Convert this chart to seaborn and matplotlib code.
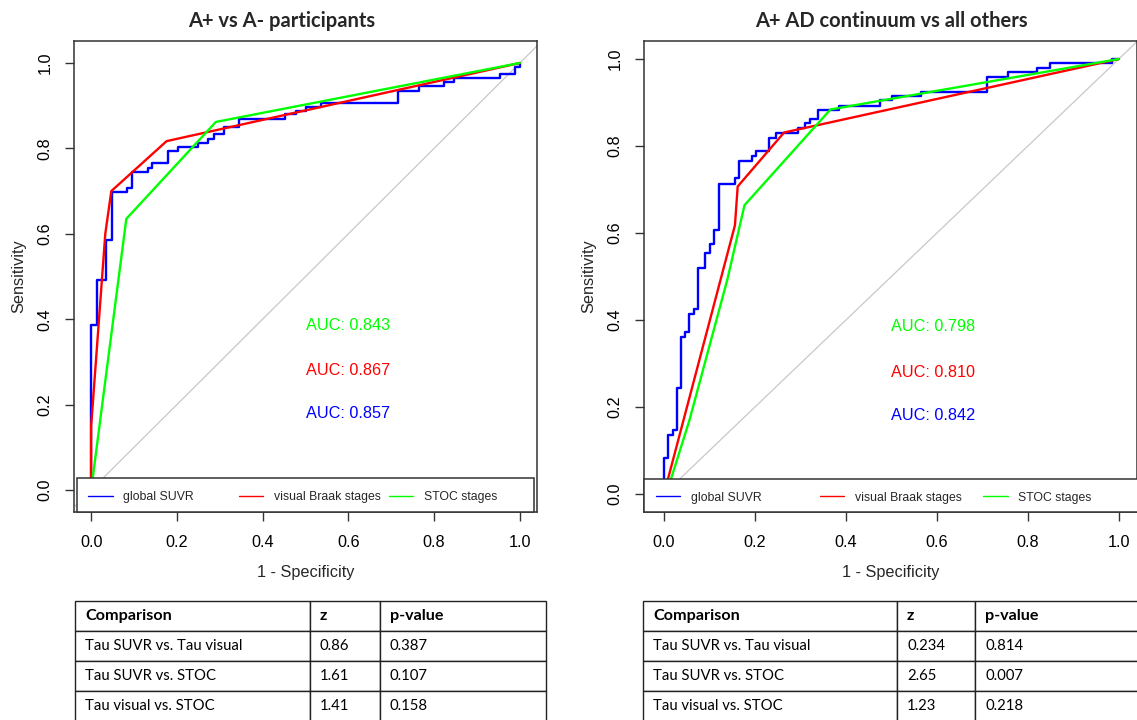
import matplotlib
matplotlib.use("Agg")
import matplotlib.pyplot as plt
from matplotlib.legend import Legend
from matplotlib.patches import Rectangle
import seaborn as sns

# ---- texts
titles = ["A+ vs A- participants", "A+ AD continuum vs all others"]
legend_labels = ["global SUVR", "visual Braak stages", "STOC stages"]
curve_colors = ["#0000FF", "#FF0000", "#00FF00"]
xlabel = "1 - Specificity"
ylabel = "Sensitivity"

# ---- left panel: ROC curves, x = 1 - specificity, y = sensitivity
# global SUVR is a step curve (end of each horizontal run, its level)
left_suvr_fpr = [0.0, 0.013, 0.035, 0.048, 0.083, 0.095, 0.132, 0.143, 0.180, 0.202,
                 0.250, 0.273, 0.287, 0.311, 0.346, 0.452, 0.478, 0.501, 0.536, 0.715,
                 0.765, 0.824, 0.846, 0.953, 0.988, 1.0, 1.0]
left_suvr_tpr = [0.0, 0.386, 0.492, 0.585, 0.699, 0.708, 0.745, 0.755, 0.765, 0.794,
                 0.803, 0.813, 0.822, 0.833, 0.849, 0.870, 0.881, 0.888, 0.896, 0.907,
                 0.935, 0.945, 0.955, 0.964, 0.974, 0.991, 1.0]
left_braak_fpr = [0.0, 0.0, 0.033, 0.047, 0.176, 1.0]
left_braak_tpr = [0.0, 0.15, 0.60, 0.70, 0.817, 1.0]
left_stoc_fpr = [0.0, 0.082, 0.291, 1.0]
left_stoc_tpr = [0.0, 0.635, 0.862, 1.0]
left_auc = [0.857, 0.867, 0.843]   # SUVR, Braak, STOC

# ---- right panel
right_suvr_fpr = [0.0, 0.0095, 0.019, 0.0286, 0.037, 0.046, 0.056, 0.065, 0.074, 0.091,
                  0.101, 0.111, 0.120, 0.155, 0.165, 0.193, 0.203, 0.230, 0.247, 0.294,
                  0.311, 0.322, 0.339, 0.385, 0.474, 0.501, 0.566, 0.711, 0.757, 0.821,
                  0.849, 0.985, 1.0, 1.0]
right_suvr_tpr = [0.0, 0.083, 0.136, 0.147, 0.243, 0.360, 0.372, 0.414, 0.425, 0.520,
                  0.553, 0.575, 0.607, 0.713, 0.726, 0.766, 0.776, 0.789, 0.819, 0.829,
                  0.842, 0.852, 0.862, 0.883, 0.893, 0.906, 0.916, 0.925, 0.959, 0.969,
                  0.980, 0.990, 0.999, 1.0]
right_braak_fpr = [0.0, 0.156, 0.162, 0.264, 1.0]
right_braak_tpr = [0.0, 0.618, 0.707, 0.831, 1.0]
right_stoc_fpr = [0.005, 0.056, 0.139, 0.177, 0.366, 1.0]
right_stoc_tpr = [0.0, 0.170, 0.492, 0.664, 0.884, 1.0]
right_auc = [0.842, 0.810, 0.798]

# ---- comparison tables
table_header = ["Comparison", "z", "p-value"]
comparisons = ["Tau SUVR vs. Tau visual", "Tau SUVR vs. STOC", "Tau visual vs. STOC"]
left_z = ["0.86", "1.61", "1.41"]
left_p = ["0.387", "0.107", "0.158"]
right_z = ["0.234", "2.65", "1.23"]
right_p = ["0.814", "0.007", "0.218"]

W, H = 1137, 720
AUC_Y = [0.18, 0.28, 0.385]   # SUVR, Braak, STOC label heights


def box(l, t, r, b):
    return [l / W, 1 - b / H, (r - l) / W, (b - t) / H]


sns.set_theme(style="ticks")
plt.rcParams["font.family"] = ["Liberation Sans", "DejaVu Sans"]

fig = plt.figure(figsize=(W / 100, H / 100), dpi=100)


def roc_panel(rect, xlim, ylim, curves, aucs, legend_x, legend_box):
    ax = fig.add_axes(rect)
    ax.axline((0, 0), (1, 1), color="#c8c8c8", lw=0.9, zorder=1)
    styles = ["steps-pre", "default", "default"]
    for (fpr, tpr), col, lab, ds in zip(curves, curve_colors, legend_labels, styles):
        sns.lineplot(x=fpr, y=tpr, ax=ax, color=col, lw=1.7, label=lab,
                     estimator=None, sort=False, drawstyle=ds, zorder=2)
    for val, col, yy in zip(aucs, curve_colors, AUC_Y):
        ax.text(0.5, yy, f"AUC: {val:.3f}", color=col, fontsize=11.7,
                ha="left", va="center")
    ax.set_xlim(*xlim)
    ax.set_ylim(*ylim)
    ticks = [0.0, 0.2, 0.4, 0.6, 0.8, 1.0]
    ax.set_xticks(ticks)
    ax.set_yticks(ticks)
    ax.set_xticklabels([f"{t:.1f}" for t in ticks])
    ax.set_yticklabels([f"{t:.1f}" for t in ticks])
    ax.tick_params(length=6.5, width=1.0, color="#333333", labelsize=11.7,
                   labelcolor="black")
    ax.tick_params(axis="x", pad=10)
    ax.tick_params(axis="y", pad=9, labelrotation=90)
    for lab in ax.get_yticklabels():
        lab.set_va("center")
    for sp in ax.spines.values():
        sp.set_visible(True)
        sp.set_color("#333333")
        sp.set_linewidth(1.1)
    ax.set_xlabel(xlabel, fontsize=11.7, labelpad=11)
    ax.set_ylabel(ylabel, fontsize=11.7, labelpad=8)

    # R-style horizontal legend: equal-width columns inside one box
    handles, labels = ax.get_legend_handles_labels()
    if ax.get_legend():
        ax.get_legend().remove()
    bx, bw, bh = legend_box
    ax.add_patch(Rectangle((bx, 0.0), bw, bh, transform=ax.transAxes,
                           facecolor="white", edgecolor="#333333", lw=1.1,
                           zorder=4, clip_on=False))
    for h, lab, lx in zip(handles, labels, legend_x):
        lg = Legend(ax, [h], [lab], loc="center left",
                    bbox_to_anchor=(lx, bh / 2 - 0.005),
                    frameon=False, fontsize=8.8, borderpad=0, borderaxespad=0,
                    handlelength=2.0, handletextpad=0.85)
        lg.set_zorder(5)
        for ln in lg.get_lines():
            ln.set_linewidth(1.0)
        ax.add_artist(lg)
    return ax


roc_panel(box(74, 41, 537, 512), (-0.04, 1.04), (-0.0515, 1.0515),
          [(left_suvr_fpr, left_suvr_tpr), (left_braak_fpr, left_braak_tpr),
           (left_stoc_fpr, left_stoc_tpr)], left_auc,
          [0.031, 0.356, 0.680], (0.0065, 0.987, 0.072))
roc_panel(box(644, 41, 1137, 512), (-0.044, 1.04), (-0.0414, 1.0414),
          [(right_suvr_fpr, right_suvr_tpr), (right_braak_fpr, right_braak_tpr),
           (right_stoc_fpr, right_stoc_tpr)], right_auc,
          [0.0243, 0.357, 0.688], (-0.001, 1.01, 0.071))

for cx, t in zip([282, 891], titles):
    fig.text(cx / W, 1 - 21 / H, t, ha="center", va="center", fontsize=14.5,
             fontweight="bold", family=["Lato", "DejaVu Sans"])


def draw_table(rect, z_vals, p_vals, col_px):
    tax = fig.add_axes(rect)
    tax.axis("off")
    rows = [[c, z, p] for c, z, p in zip(comparisons, z_vals, p_vals)]
    total = sum(col_px)
    tbl = tax.table(cellText=rows, colLabels=table_header,
                    colWidths=[c / total for c in col_px],
                    cellLoc="left", colLoc="left", bbox=[0, 0, 1, 1])
    tbl.auto_set_font_size(False)
    tbl.set_fontsize(10.7)
    for (r, c), cell in tbl.get_celld().items():
        cell.set_linewidth(1.0)
        cell.set_edgecolor("#222222")
        cell.PAD = 10 / col_px[c]
        txt = cell.get_text()
        txt.set_fontfamily(["Lato", "DejaVu Sans"])
        txt.set_color("black")
        if r == 0:
            txt.set_fontweight("bold")
            txt.set_fontsize(11.6)


draw_table(box(75, 601, 546, 721), left_z, left_p, [235, 70, 166])
draw_table(box(643, 601, 1141, 721), right_z, right_p, [254, 78, 166])

fig.savefig("out.png", dpi=100)
